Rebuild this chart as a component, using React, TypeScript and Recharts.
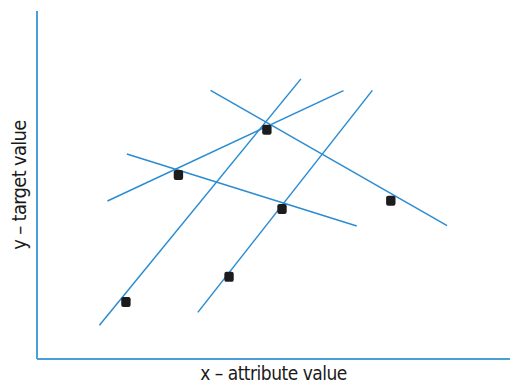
import React from 'react';
import { ScatterChart, Scatter, XAxis, YAxis } from 'recharts';

// data points (x in 0-100, y in 0-100)
const pointX = [18.8, 29.9, 48.6, 51.8, 40.6, 74.8];
const pointY = [16.4, 52.9, 65.9, 43.1, 23.6, 45.5];

// candidate lines, each from [x1, y1] to [x2, y2]
const lineStart = [
  [13.2, 9.7],
  [34.0, 13.4],
  [14.9, 45.4],
  [19.0, 58.9],
  [36.7, 77.2],
];
const lineEnd = [
  [55.8, 80.5],
  [70.9, 77.2],
  [64.8, 77.1],
  [67.6, 38.2],
  [86.7, 38.3],
];

const points = pointX.map((x, i) => ({ x, y: pointY[i] }));
const segments = lineStart.map((s, i) => [
  { x: s[0], y: s[1] },
  { x: lineEnd[i][0], y: lineEnd[i][1] },
]);

const LINE_COLOR = '#2b8cd2';
const AXIS_COLOR = '#4a9fd8';
const LABEL_FONT = '"DejaVu Sans Condensed", sans-serif';

const SquareDot = (props: any) => {
  const { cx, cy } = props;
  return <rect x={cx - 4.7} y={cy - 5} width={9.4} height={10} rx={2.2} fill="#1c1c1e" />;
};

const App: React.FC = () => {
  return (
    <div style={{ width: 510, height: 385 }}>
      <style>{`body{margin:0}`}</style>
      <ScatterChart width={510} height={385} margin={{ top: 11, right: 0, bottom: 0, left: 0 }}>
        <XAxis
          type="number"
          dataKey="x"
          domain={[0, 100]}
          height={26}
          tick={false}
          tickLine={false}
          axisLine={{ stroke: AXIS_COLOR, strokeWidth: 2 }}
          label={{
            value: 'x – attribute value',
            position: 'insideBottom',
            offset: 5,
            fill: '#1a1a1a',
            fontSize: 19,
            letterSpacing: -0.5,
            fontFamily: LABEL_FONT,
          }}
        />
        <YAxis
          type="number"
          dataKey="y"
          domain={[0, 100]}
          width={37}
          tick={false}
          tickLine={false}
          axisLine={{ stroke: AXIS_COLOR, strokeWidth: 2 }}
          label={{
            value: 'y – target value',
            angle: -90,
            position: 'insideLeft',
            offset: 19,
            style: { textAnchor: 'middle' },
            fill: '#1a1a1a',
            fontSize: 20,
            letterSpacing: -0.7,
            fontFamily: LABEL_FONT,
          }}
        />
        {segments.map((seg, i) => (
          <Scatter
            key={`line-${i}`}
            data={seg}
            line={{ stroke: LINE_COLOR, strokeWidth: 1.5 }}
            shape={() => null}
            isAnimationActive={false}
          />
        ))}
        <Scatter data={points} shape={SquareDot} isAnimationActive={false} />
      </ScatterChart>
    </div>
  );
};

export default App;
